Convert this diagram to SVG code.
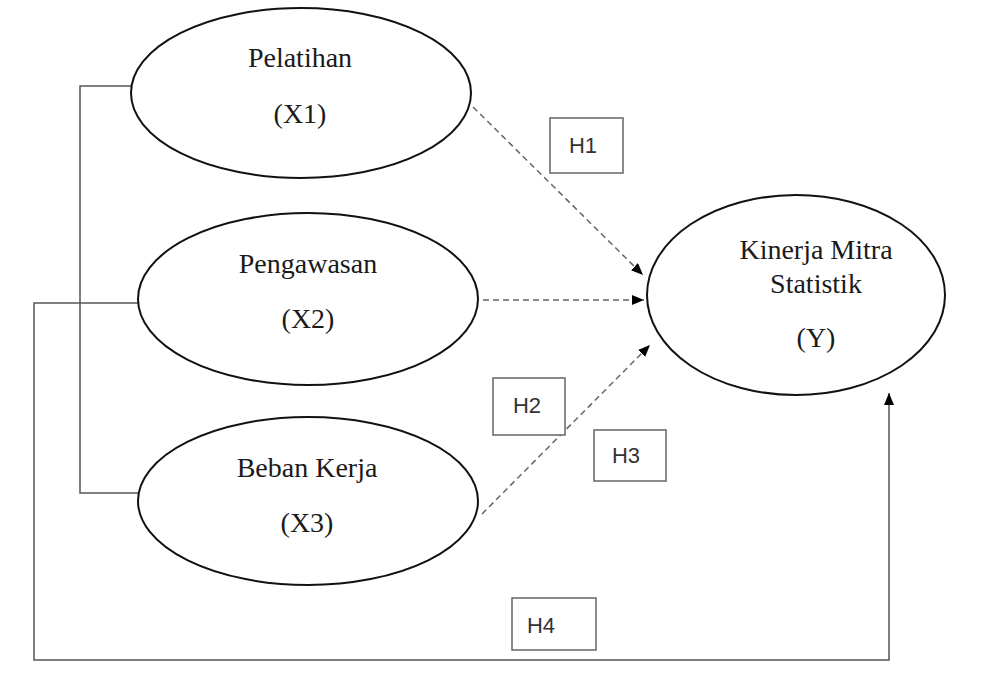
<svg xmlns="http://www.w3.org/2000/svg" width="993" height="679" viewBox="0 0 993 679">
<defs>
<marker id="ah" viewBox="0 0 12 10" refX="12" refY="5" markerWidth="12" markerHeight="10" markerUnits="userSpaceOnUse" orient="auto">
<path d="M0,0 L12,5 L0,10 Z" fill="#000"/>
</marker>
</defs>
<style>
.node ellipse{fill:#fff;stroke:#111;stroke-width:2}
.lbl{font-family:"Liberation Serif","Times New Roman",serif;font-size:28px;fill:#1a1a1a;text-anchor:middle}
.hbox rect{fill:#fff;stroke:#666;stroke-width:1.5}
.hbox text{font-family:"Liberation Sans",Arial,sans-serif;font-size:22px;fill:#333;text-anchor:middle}
.solid{fill:none;stroke:#555;stroke-width:1.5}
.dash{fill:none;stroke:#666;stroke-width:1.5;stroke-dasharray:6 4}
</style>
<rect width="993" height="679" fill="#fff"/>
<g id="connectors">
<polyline class="solid" points="133,86 80,86 80,493 138,493"/>
<polyline class="solid" points="138,303 34,303 34,660 889,660 889,393" marker-end="url(#ah)"/>
<line class="dash" x1="473" y1="107" x2="643" y2="275" marker-end="url(#ah)"/>
<line class="dash" x1="483" y1="300" x2="644" y2="300" marker-end="url(#ah)"/>
<line class="dash" x1="482" y1="514" x2="650" y2="345" marker-end="url(#ah)"/>
</g>
<g id="node-x1" class="node">
<ellipse cx="301" cy="93" rx="170" ry="85"/>
<text class="lbl" x="300" y="67">Pelatihan</text>
<text class="lbl" x="300" y="123">(X1)</text>
</g>
<g id="node-x2" class="node">
<ellipse cx="308" cy="299" rx="170" ry="86"/>
<text class="lbl" x="308" y="273">Pengawasan</text>
<text class="lbl" x="308" y="328">(X2)</text>
</g>
<g id="node-x3" class="node">
<ellipse cx="308" cy="501" rx="170" ry="84"/>
<text class="lbl" x="307" y="477">Beban Kerja</text>
<text class="lbl" x="307" y="532">(X3)</text>
</g>
<g id="node-y" class="node">
<ellipse cx="796" cy="295" rx="149" ry="100"/>
<text class="lbl" x="816" y="259">Kinerja Mitra</text>
<text class="lbl" x="816" y="293">Statistik</text>
<text class="lbl" x="816" y="347">(Y)</text>
</g>
<g id="h1" class="hbox">
<rect x="550" y="118" width="73" height="55"/>
<text x="583" y="153">H1</text>
</g>
<g id="h2" class="hbox">
<rect x="493" y="378" width="72" height="57"/>
<text x="527" y="413">H2</text>
</g>
<g id="h3" class="hbox">
<rect x="594" y="430" width="72" height="51"/>
<text x="626" y="463">H3</text>
</g>
<g id="h4" class="hbox">
<rect x="512" y="598" width="84" height="52"/>
<text x="541" y="633">H4</text>
</g>
</svg>
